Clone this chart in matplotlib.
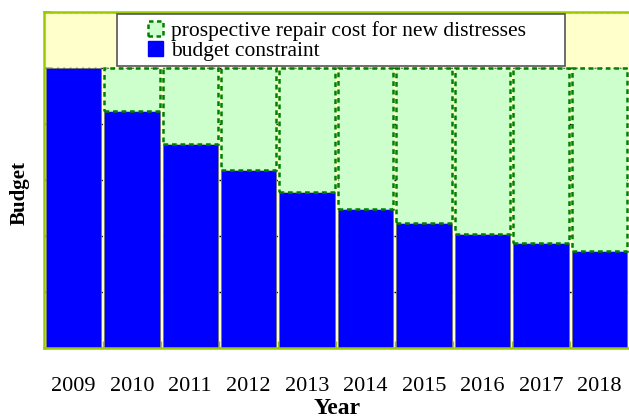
import matplotlib
matplotlib.use("Agg")
import matplotlib.pyplot as plt
from matplotlib.patches import Patch, Rectangle
import numpy as np

years = ["2009", "2010", "2011", "2012", "2013", "2014", "2015", "2016", "2017", "2018"]
budget_constraint = [100, 84.8, 72.7, 63.4, 55.7, 49.5, 44.5, 40.6, 37.4, 34.7]
total_repair_cost = [100, 100, 100, 100, 100, 100, 100, 100, 100, 100]

plt.rcParams['font.family'] = ['Liberation Serif', 'DejaVu Serif']

fig = plt.figure(figsize=(6.29, 4.19), dpi=100)
ax = fig.add_axes([44/629, 1 - 348/419, 1 - 44/629 + 0.002, (348 - 12)/419])
ax.set_facecolor('#FFFFCC')

x = np.arange(len(years))
budget = np.array(budget_constraint)
extra = np.array(total_repair_cost) - budget
width = 0.95

ax.bar(x, budget, width=width, color='#0000FF', edgecolor='#777777', linewidth=0.6, zorder=2)
edgec = ['#008000' if e > 0 else 'none' for e in extra]
ax.bar(x, extra, width=width, bottom=budget, color='#CCFFCC', edgecolor=edgec,
       linewidth=1.8, linestyle=(0, (1.9, 1.5)), zorder=3)

ax.set_xlim(-0.503, 9.53)
ax.set_ylim(0, 120)
ax.set_yticks([0, 20, 40, 60, 80, 100, 120])
ax.set_yticklabels([])
ax.tick_params(axis='y', direction='in', length=5, width=1.2, color='#A0C020')
ax.set_xticks(x)
ax.set_xticklabels(years, fontsize=16)
ax.tick_params(axis='x', which='major', length=0, pad=21)
ax.set_xticks(np.arange(0.5, 9.5, 1), minor=True)
ax.tick_params(axis='x', which='minor', direction='in', length=5, width=1, color='#A0C020')

ax.yaxis.grid(True, color='black', linestyle=(0, (1.5, 3)), linewidth=1.0, zorder=0)
ax.set_axisbelow(True)

for s in ['left', 'bottom', 'top']:
    ax.spines[s].set_color('#99CC00')
    ax.spines[s].set_linewidth(1.8)
ax.spines['right'].set_visible(False)

ax.set_xlabel('Year', fontsize=17, fontweight='bold', labelpad=1)
ax.set_ylabel('Budget', fontsize=15, fontweight='bold')
ax.yaxis.set_label_coords(-0.024, 0.46)

# legend frame
frame = Rectangle((117/629, 1 - 66/419), 448/629, 52/419, transform=fig.transFigure,
                  facecolor='white', edgecolor='#555555', linewidth=1.2, zorder=5)
fig.patches.append(frame)

handles = [Patch(facecolor='#CCFFCC', edgecolor='#008000', linewidth=1.8, linestyle=(0, (1.8, 1.4))),
           Patch(facecolor='#0000FF', edgecolor='#0000FF')]
labels = ['prospective repair cost for new distresses', 'budget constraint']
leg = fig.legend(handles, labels, loc='upper left', bbox_to_anchor=(148/629, 1 - 21/419),
                 frameon=False, fontsize=15.5, handlelength=0.7, handleheight=0.7,
                 handletextpad=0.35, labelspacing=0.0, borderpad=0.0, borderaxespad=0)
leg.set_zorder(6)

fig.savefig('out.png', dpi=100)
